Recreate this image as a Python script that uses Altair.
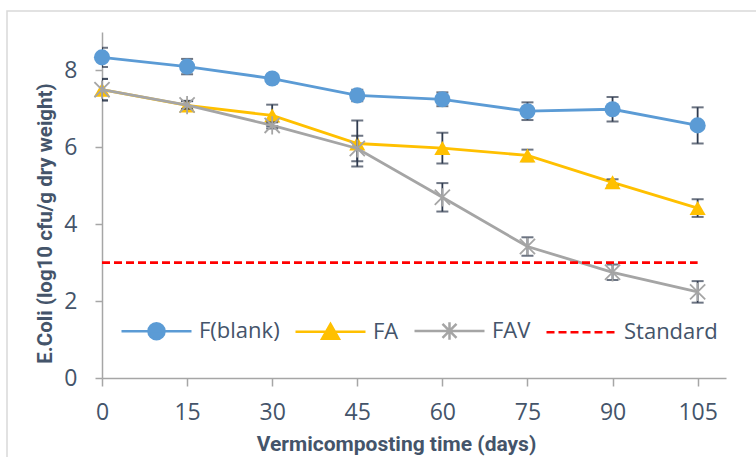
import altair as alt
import pandas as pd

days = [0, 15, 30, 45, 60, 75, 90, 105]
series_names = ["F(blank)", "FA", "FAV", "Standard"]
f_blank = [8.34, 8.10, 7.79, 7.35, 7.25, 6.94, 6.99, 6.57]
f_blank_err = [0.25, 0.20, 0.10, 0.15, 0.18, 0.23, 0.32, 0.47]
fa = [7.50, 7.09, 6.83, 6.10, 5.98, 5.79, 5.09, 4.42]
fa_err = [0.28, 0.12, 0.28, 0.60, 0.40, 0.15, 0.08, 0.23]
fav = [7.50, 7.10, 6.57, 5.97, 4.70, 3.42, 2.75, 2.24]
fav_err = [0.28, 0.10, 0.08, 0.33, 0.37, 0.24, 0.20, 0.28]
standard_days = [0, 105]
standard_value = [3.0, 3.0]

colors = ["#5B9BD5", "#FFC000", "#A5A5A5", "#FF0000"]
TEXT = "#44546A"
ERR = "#2F3B4F"
LABEL_FONT = "Open Sans"
TITLE_FONT = "Roboto"

rows = []
for name, vals, errs in [("F(blank)", f_blank, f_blank_err), ("FA", fa, fa_err), ("FAV", fav, fav_err)]:
    for d, v, e in zip(days, vals, errs):
        rows.append({"day": d, "series": name, "value": v, "lo": v - e, "hi": v + e})
df = pd.DataFrame(rows)
std_df = pd.DataFrame({"day": standard_days, "value": standard_value, "series": "Standard"})
legend_df = pd.DataFrame({"day": [50] * 4, "value": [5] * 4, "series": series_names})

x_scale = alt.Scale(domain=[0, 110], nice=False, zero=False)
y_scale = alt.Scale(domain=[0, 9], nice=False)

x_axis = alt.Axis(values=days, title="Vermicomposting time (days)", grid=False,
                  domainColor="#A6A6A6", domainWidth=1.5, tickColor="#A6A6A6", tickWidth=1.5,
                  tickSize=8, labelFontSize=23, labelFont=LABEL_FONT, labelColor=TEXT,
                  labelPadding=15, titleFont=TITLE_FONT, titleFontSize=21, titleFontWeight="bold",
                  titleColor=TEXT, titleX=294, titleY=55, titleAnchor="start", titleAlign="center",
                  titleBaseline="top", labelFlush=False, labelOverlap=False)
y_axis = alt.Axis(values=[0, 2, 4, 6, 8], title="E.Coli (log10 cfu/g dry weight)", grid=False,
                  domainColor="#A6A6A6", domainWidth=1.5, tickColor="#A6A6A6", tickWidth=1.5,
                  tickSize=7, labelFontSize=23, labelFont=LABEL_FONT, labelColor=TEXT,
                  labelPadding=18, titleFont=TITLE_FONT, titleFontSize=20.5, titleFontWeight="bold",
                  titleColor=TEXT, titleX=-47, titleY=191, titleAngle=-90, titleAlign="center",
                  titleBaseline="bottom", titleAnchor="start", labelFlush=False)

base = alt.Chart(df)
X = alt.X("day:Q", scale=x_scale, axis=x_axis)
Y = alt.Y("value:Q", scale=y_scale, axis=y_axis)

border = alt.Chart(legend_df.head(1)).mark_rect(fill=None, stroke="#D9D9D9", strokeWidth=1.5, clip=False).encode(
    x=alt.value(7 - 102), y=alt.value(11 - 32), x2=alt.value(800), y2=alt.value(500))

asterisk = "M-1,-1L1,1M-1,1L1,-1M0,-1.2L0,1.2"
shapes = {"F(blank)": "circle", "FA": "triangle-up", "FAV": asterisk}

layers = [border]
for i, name in enumerate(["F(blank)", "FA", "FAV"]):
    sub = base.transform_filter(alt.datum.series == name)
    line = sub.mark_line(color=colors[i], strokeWidth=2.8).encode(x=X, y=Y)
    rule = sub.mark_rule(color=ERR, strokeWidth=1.8, clip=True).encode(
        x=alt.X("day:Q", scale=x_scale), y=alt.Y("lo:Q", scale=y_scale), y2="hi:Q")
    cap_lo = sub.mark_tick(color=ERR, thickness=2, size=12, orient="horizontal", clip=True).encode(
        x=alt.X("day:Q", scale=x_scale), y=alt.Y("lo:Q", scale=y_scale))
    cap_hi = sub.mark_tick(color=ERR, thickness=2, size=12, orient="horizontal", clip=True).encode(
        x=alt.X("day:Q", scale=x_scale), y=alt.Y("hi:Q", scale=y_scale))
    if name == "FAV":
        pts = sub.mark_point(shape=shapes[name], filled=False, color=colors[i], size=230,
                             strokeWidth=1.8, opacity=1).encode(x=alt.X("day:Q", scale=x_scale),
                                                               y=alt.Y("value:Q", scale=y_scale))
    else:
        pts = sub.mark_point(shape=shapes[name], filled=True, color=colors[i], size=260,
                             opacity=1).encode(x=alt.X("day:Q", scale=x_scale),
                                               y=alt.Y("value:Q", scale=y_scale))
    layers += [line, rule, cap_lo, cap_hi, pts]

std = alt.Chart(std_df).mark_line(color=colors[3], strokeWidth=2.8, strokeDash=[8, 4]).encode(
    x=alt.X("day:Q", scale=x_scale), y=alt.Y("value:Q", scale=y_scale))
layers.append(std)

# legend symbols: line + marker paths in unit coordinates (1 unit = 35 px)
r = 0.23
circle_leg = f"M-1,0L1,0M-{r},0A{r},{r} 0 1,0 {r},0A{r},{r} 0 1,0 -{r},0Z"
tri_leg = "M-1,0L1,0M-0.24,0.2L0.24,0.2L0,-0.22Z"
a = 0.2
ast_leg = f"M-1,0L1,0M-{a},-{a}L{a},{a}M-{a},{a}L{a},-{a}M0,-0.25L0,0.25"
dash_parts = []
p = -1.0
while p < 1.0:
    e = min(p + 0.2286, 1.0)
    dash_parts.append(f"M{p:.3f},0L{e:.3f},0")
    p = e + 0.1143
dash_leg = "".join(dash_parts)

leg = alt.Legend(title=None, orient="none", legendX=18, legendY=262,
                 direction="horizontal", symbolSize=4900, symbolStrokeWidth=2.5,
                 labelFontSize=22, labelFont=LABEL_FONT, labelColor=TEXT,
                 labelOffset=6, columnPadding=10, padding=0, symbolOpacity=1)
legend_layer = alt.Chart(legend_df).mark_point(filled=True, opacity=0).encode(
    x=alt.X("day:Q", scale=x_scale),
    y=alt.Y("value:Q", scale=y_scale),
    fill=alt.Fill("series:N", scale=alt.Scale(domain=series_names,
                                              range=[colors[0], colors[1], "transparent", "transparent"]),
                  legend=leg),
    stroke=alt.Stroke("series:N", scale=alt.Scale(domain=series_names, range=colors), legend=leg),
    shape=alt.Shape("series:N", scale=alt.Scale(domain=series_names,
                                                range=[circle_leg, tri_leg, ast_leg, dash_leg]), legend=leg),
)
layers.append(legend_layer)

chart = alt.layer(*layers).properties(
    width=624, height=346,
    autosize=alt.AutoSizeParams(type="none"),
    padding={"left": 102, "top": 32, "right": 30, "bottom": 79},
    background="white",
).configure_view(stroke=None)

chart.save("out.html", embed_options={"renderer": "svg", "actions": False})
